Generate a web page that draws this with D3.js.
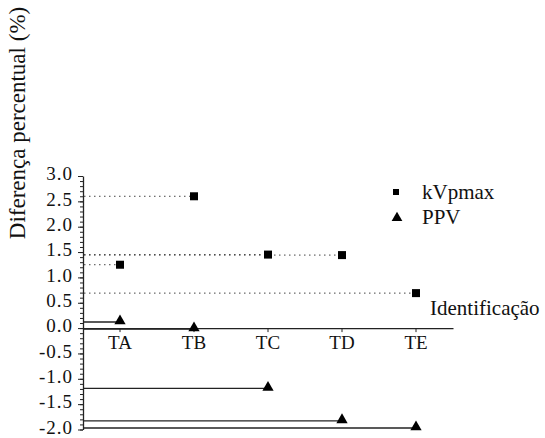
<!DOCTYPE html>
<html>
<head>
<meta charset="utf-8">
<script src="https://cdn.jsdelivr.net/npm/d3@7"></script>
<style>
  body { margin: 0; background: #fff; }
</style>
</head>
<body>
<div id="chart"></div>
<script>
// Percent difference per identification, kVpmax vs PPV

var categories = ["TA", "TB", "TC", "TD", "TE"];
var kvpmax = [1.25, 2.6, 1.45, 1.44, 0.69];
var ppv = [0.12, -0.02, -1.19, -1.83, -1.97];
var majorTicks = [3.0, 2.5, 2.0, 1.5, 1.0, 0.5, 0.0, -0.5, -1.0, -1.5, -2.0];
var seriesNames = ["kVpmax", "PPV"];

var width = 545, height = 438;
var serif = "'Liberation Serif', 'Times New Roman', Tinos, Times";

var svg = d3.select("#chart").append("svg")
    .attr("width", width)
    .attr("height", height)
    .style("font-family", serif);

var x = d3.scaleBand()
    .domain(categories)
    .range([83, 453])
    .padding(0);

var y = d3.scaleLinear()
    .domain([-2, 3])
    .range([429.5, 176]);

function cx(c) { return x(c) + x.bandwidth() / 2; }

var fmt = function(d) { return d3.format(".1f")(d).replace("−", "-"); };

// minor ticks every 0.1
var minorTicks = d3.range(-20, 31).map(function(i) { return i / 10; });
svg.append("g")
    .attr("transform", "translate(83,0)")
    .call(d3.axisLeft(y).tickValues(minorTicks).tickSize(3).tickFormat(""))
    .call(function(g) { g.select(".domain").remove(); })
    .selectAll("line").attr("stroke", "#222");

var yAxis = svg.append("g")
    .attr("transform", "translate(83,0)")
    .call(d3.axisLeft(y).tickValues(majorTicks).tickSize(5).tickSizeOuter(0).tickPadding(5).tickFormat(fmt))
    .attr("font-family", null)
    .attr("font-size", null);
yAxis.selectAll("text")
    .style("font-family", serif)
    .style("font-size", "19px")
    .style("letter-spacing", "1px")
    .attr("fill", "#111")
    .attr("dy", "0.2em");
yAxis.select(".domain").attr("stroke", "#222").attr("stroke-width", 1.3);
yAxis.selectAll("line").attr("stroke", "#222");

// dotted guides for kVpmax
svg.selectAll(".kguide")
    .data(categories)
  .enter().append("line")
    .attr("class", "kguide")
    .attr("x1", 84)
    .attr("x2", function(d) { return cx(d); })
    .attr("y1", function(d, i) { return y(kvpmax[i]); })
    .attr("y2", function(d, i) { return y(kvpmax[i]); })
    .attr("stroke", "#444")
    .attr("stroke-width", 1)
    .attr("stroke-dasharray", "1.5,3.5");

// solid guides for PPV
svg.selectAll(".pguide")
    .data(categories)
  .enter().append("line")
    .attr("class", "pguide")
    .attr("x1", 83)
    .attr("x2", function(d) { return cx(d); })
    .attr("y1", function(d, i) { return y(ppv[i]); })
    .attr("y2", function(d, i) { return y(ppv[i]); })
    .attr("stroke", "#222")
    .attr("stroke-width", 1.3);

// x axis at zero
var xAxis = svg.append("g")
    .attr("transform", "translate(0," + y(0) + ")")
    .call(d3.axisBottom(x).tickSize(4).tickSizeOuter(0).tickPadding(3))
    .attr("font-family", null)
    .attr("font-size", null);
xAxis.select(".domain").attr("stroke", "#222").attr("stroke-width", 1.3);
xAxis.selectAll("line").attr("stroke", "#222");
xAxis.selectAll("text")
    .style("font-family", serif)
    .style("font-size", "19px")
    .attr("fill", "#111");

// markers
svg.selectAll(".ksq")
    .data(categories)
  .enter().append("rect")
    .attr("class", "ksq")
    .attr("x", function(d) { return cx(d) - 4; })
    .attr("y", function(d, i) { return y(kvpmax[i]) - 4; })
    .attr("width", 8)
    .attr("height", 8)
    .attr("fill", "#000");

var tri = d3.symbol().type(d3.symbolTriangle).size(55);
svg.selectAll(".ptri")
    .data(categories)
  .enter().append("path")
    .attr("class", "ptri")
    .attr("d", tri)
    .attr("transform", function(d, i) { return "translate(" + cx(d) + "," + (y(ppv[i]) - 1) + ")"; })
    .attr("fill", "#000");

// legend
var legend = svg.append("g");
legend.append("rect")
    .attr("x", 393).attr("y", 189).attr("width", 6).attr("height", 6)
    .attr("fill", "#000");
legend.append("path")
    .attr("d", d3.symbol().type(d3.symbolTriangle).size(50))
    .attr("transform", "translate(397,218)")
    .attr("fill", "#000");
legend.selectAll(".ltext")
    .data(seriesNames)
  .enter().append("text")
    .attr("class", "ltext")
    .attr("x", 422)
    .attr("y", function(d, i) { return 199 + i * 25; })
    .style("font-family", serif)
    .style("font-size", "21px")
    .attr("fill", "#111")
    .text(function(d) { return d; });

// axis titles
svg.append("text")
    .attr("x", 430)
    .attr("y", 315)
    .style("font-family", serif)
    .style("font-size", "21px")
    .attr("fill", "#111")
    .text("Identificação");

svg.append("text")
    .attr("transform", "translate(25,123) rotate(-90)")
    .attr("text-anchor", "middle")
    .style("font-family", serif)
    .style("font-size", "23px")
    .attr("fill", "#111")
    .text("Diferença percentual (%)");
</script>
</body>
</html>
